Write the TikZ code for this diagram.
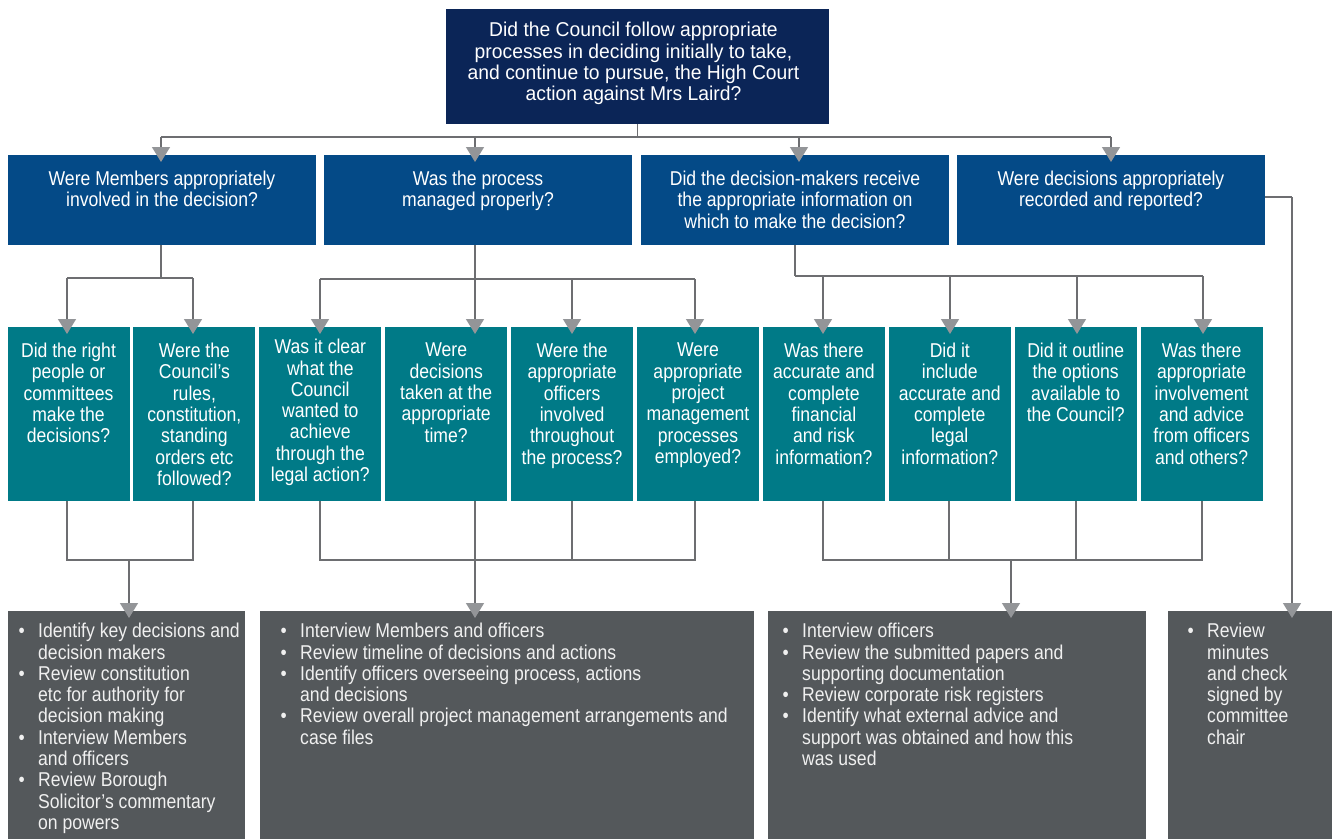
\documentclass[tikz,border=0pt]{standalone}
\usepackage{fontspec}
\setmainfont{Liberation Sans}[FakeStretch=0.88]
\newfontfamily\topfont{Liberation Sans}[FakeStretch=0.965]
\usetikzlibrary{arrows.meta}
\definecolor{navy}{HTML}{0B2557}
\definecolor{qblue}{HTML}{044A87}
\definecolor{qteal}{HTML}{007A87}
\definecolor{qgrey}{HTML}{54585B}
\definecolor{lineg}{HTML}{6D6E71}
\definecolor{arrg}{HTML}{939598}
\newcommand{\bl}[1]{\makebox[19.5pt][l]{\textbullet}#1}
\newcommand{\ct}[1]{\hspace*{19.5pt}#1}
\tikzset{
  boxbase/.style={rectangle, anchor=north west, inner sep=0pt, outer sep=0pt, draw=none},
  topbox/.style={boxbase, fill=navy, minimum width=383pt, minimum height=115pt},
  midbox/.style={boxbase, fill=qblue, minimum width=308pt, minimum height=90pt},
  qbox/.style={boxbase, fill=qteal, minimum width=122pt, minimum height=174pt},
  lowbox/.style={boxbase, fill=qgrey, minimum height=229pt},
  txt/.style={text=white, align=center, inner sep=0pt, anchor=north, font=\fontsize{20}{21.3}\selectfont},
  ltxt/.style={text=white!94!black, align=left, inner sep=0pt, anchor=north west, font=\fontsize{20}{21.3}\selectfont},
  ln/.style={draw=lineg, line width=1.4pt},
  ar/.style={ln, shorten >=-7pt, -{Triangle[width=18pt,length=15pt,color=arrg,fill=arrg]}}
}
\begin{document}
\begin{tikzpicture}[x=1pt,y=-1pt]
\useasboundingbox (0,0) rectangle (1332,838);
% boxes
\node[topbox] (top) at (446,9) {};
\node[midbox] (m1) at (8,155) {};
\node[midbox] (m2) at (324,155) {};
\node[midbox] (m3) at (641,155) {};
\node[midbox] (m4) at (957,155) {};
\node[qbox] (q1) at (7.5,327) {};
\node[qbox] (q2) at (133.4,327) {};
\node[qbox] (q3) at (259.3,327) {};
\node[qbox] (q4) at (385.2,327) {};
\node[qbox] (q5) at (511.1,327) {};
\node[qbox] (q6) at (637,327) {};
\node[qbox] (q7) at (762.9,327) {};
\node[qbox] (q8) at (888.8,327) {};
\node[qbox] (q9) at (1014.7,327) {};
\node[qbox] (q10) at (1140.6,327) {};
\node[lowbox, minimum width=237pt] (b1) at (8,611) {};
\node[lowbox, minimum width=494pt] (b2) at (260,611) {};
\node[lowbox, minimum width=378pt] (b3) at (768,611) {};
\node[lowbox, minimum width=164pt] (b4) at (1168,611) {};
% texts
\node[txt, font=\topfont\fontsize{20}{21.1}\selectfont] (ttop) at ([xshift=-4pt]top.north |- 0,22.3) {Did the Council follow appropriate\\processes in deciding initially to take,\\and continue to pursue, the High Court\\action against Mrs Laird?};
\node[txt] (tm1) at (m1.north |- 0,171) {Were Members appropriately\\involved in the decision?};
\node[txt] (tm2) at (m2.north |- 0,171) {Was the process\\managed properly?};
\node[txt] (tm3) at (m3.north |- 0,171) {Did the decision-makers receive\\the appropriate information on\\which to make the decision?};
\node[txt] (tm4) at (m4.north |- 0,171) {Were decisions appropriately\\recorded and reported?};
\node[txt] (tq1) at (q1.north |- 0,343) {Did the right\\people or\\committees\\make the\\decisions?};
\node[txt] (tq2) at (q2.north |- 0,343) {Were the\\Council’s\\rules,\\constitution,\\standing\\orders etc\\followed?};
\node[txt] (tq3) at (q3.north |- 0,339) {Was it clear\\what the\\Council\\wanted to\\achieve\\through the\\legal action?};
\node[txt] (tq4) at (q4.north |- 0,343) {Were\\decisions\\taken at the\\appropriate\\time?};
\node[txt] (tq5) at (q5.north |- 0,343) {Were the\\appropriate\\officers\\involved\\throughout\\the process?};
\node[txt] (tq6) at (q6.north |- 0,343) {Were\\appropriate\\project\\management\\processes\\employed?};
\node[txt] (tq7) at (q7.north |- 0,343) {Was there\\accurate and\\complete\\financial\\and risk\\information?};
\node[txt] (tq8) at (q8.north |- 0,343) {Did it\\include\\accurate and\\complete\\legal\\information?};
\node[txt] (tq9) at (q9.north |- 0,343) {Did it outline\\the options\\available to\\the Council?};
\node[txt] (tq10) at (q10.north |- 0,343) {Was there\\appropriate\\involvement\\and advice\\from officers\\and others?};
\node[ltxt] (tb1) at (18.5,623) {\bl{Identify key decisions and}\\\ct{decision makers}\\\bl{Review constitution}\\\ct{etc for authority for}\\\ct{decision making}\\\bl{Interview Members}\\\ct{and officers}\\\bl{Review Borough}\\\ct{Solicitor’s commentary}\\\ct{on powers}};
\node[ltxt] (tb2) at (280.5,623) {\bl{Interview Members and officers}\\\bl{Review timeline of decisions and actions}\\\bl{Identify officers overseeing process, actions}\\\ct{and decisions}\\\bl{Review overall project management arrangements and}\\\ct{case files}};
\node[ltxt] (tb3) at (782.5,623) {\bl{Interview officers}\\\bl{Review the submitted papers and}\\\ct{supporting documentation}\\\bl{Review corporate risk registers}\\\bl{Identify what external advice and}\\\ct{support was obtained and how this}\\\ct{was used}};
\node[ltxt] (tb4) at (1187.5,623) {\bl{Review}\\\ct{minutes}\\\ct{and check}\\\ct{signed by}\\\ct{committee}\\\ct{chair}};
% junction coordinates
\coordinate (j0) at (top.south |- 0,137);
\coordinate (j1) at (161,278);
\coordinate (j2) at (475,279);
\coordinate (j3) at (795,276);
\coordinate (j4) at (1292,197);
% level 1 -> level 2
\draw[ln] (top.south) -- (j0);
\draw[ln] (161,137) -- (1111,137);
\draw[ar] (161,137) -- (161,0 |- m1.north);
\draw[ar] (475,137) -- (475,0 |- m2.north);
\draw[ar] (799,137) -- (799,0 |- m3.north);
\draw[ar] (1111,137) -- (1111,0 |- m4.north);
% level 2 -> level 3
\draw[ln] (161,0 |- m1.south) -- (j1);
\draw[ln] (67,278) -- (193,278);
\draw[ar] (67,278) -- (67,0 |- q1.north);
\draw[ar] (193,278) -- (193,0 |- q2.north);
\draw[ln] (475,0 |- m2.south) -- (j2);
\draw[ln] (320,279) -- (695,279);
\draw[ar] (320,279) -- (320,0 |- q3.north);
\draw[ar] (j2) -- (475,0 |- q4.north);
\draw[ar] (572,279) -- (572,0 |- q5.north);
\draw[ar] (695,279) -- (695,0 |- q6.north);
\draw[ln] (795,0 |- m3.south) -- (j3);
\draw[ln] (j3) -- (1203,276);
\draw[ar] (823,276) -- (823,0 |- q7.north);
\draw[ar] (950,276) -- (950,0 |- q8.north);
\draw[ar] (1077,276) -- (1077,0 |- q9.north);
\draw[ar] (1203,276) -- (1203,0 |- q10.north);
\draw[ln] (m4.east |- j4) -- (j4);
\draw[ar] (j4) -- (1292,0 |- b4.north);
% level 3 -> actions
\draw[ln] (67,0 |- q1.south) -- (67,560) -- (193,560) -- (193,0 |- q2.south);
\draw[ar] (129,560) -- (129,0 |- b1.north);
\draw[ln] (320,0 |- q3.south) -- (320,560) -- (695,560) -- (695,0 |- q6.south);
\draw[ln] (572,0 |- q5.south) -- (572,560);
\draw[ar] (475,0 |- q4.south) -- (475,0 |- b2.north);
\draw[ln] (823,0 |- q7.south) -- (823,560) -- (1202,560) -- (1202,0 |- q10.south);
\draw[ln] (949,0 |- q8.south) -- (949,560);
\draw[ln] (1076,0 |- q9.south) -- (1076,560);
\draw[ar] (1011,560) -- (1011,0 |- b3.north);
\end{tikzpicture}
\end{document}
